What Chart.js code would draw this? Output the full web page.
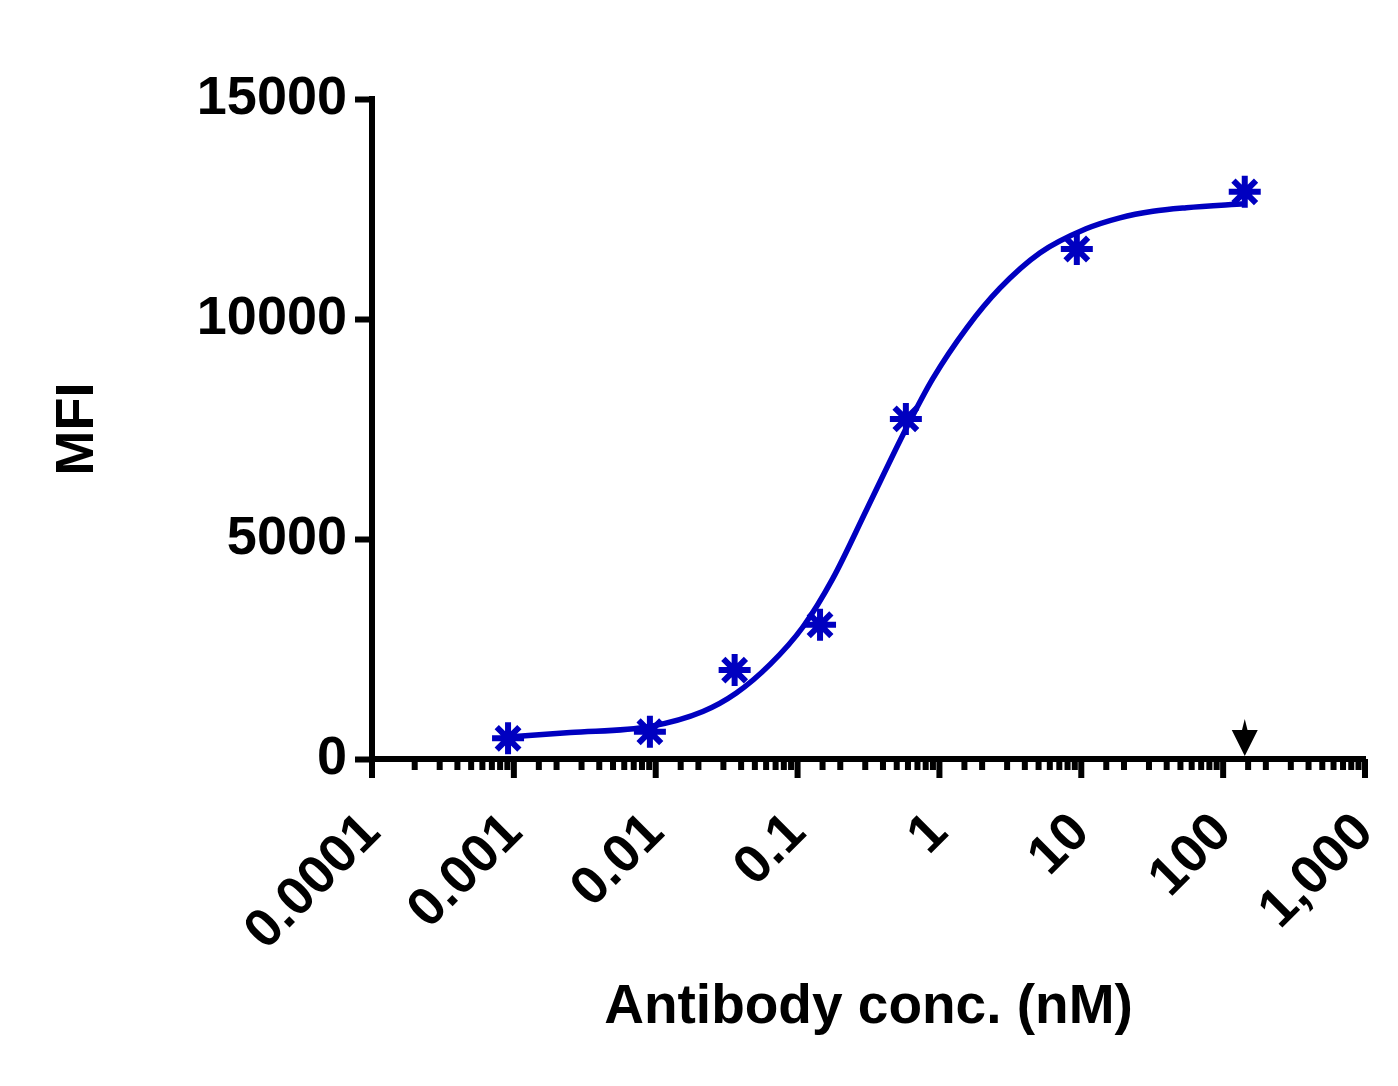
<!DOCTYPE html>
<html lang="en">
<head>
    <meta charset="UTF-8">
    <title>MFI vs Antibody conc.</title>
    <script src="https://cdn.jsdelivr.net/npm/chart.js"></script>
    <style>
        body {
            margin: 0;
            background: #ffffff;
        }

        .chart-box {
            width: 1398px;
            height: 1086px;
        }
    </style>
</head>
<body>
    <div class="chart-box">
        <canvas id="bindingChart"></canvas>
    </div>

    <script>
        // measured points (nM, MFI)
        const concValues = [0.00091, 0.0091, 0.036, 0.144, 0.58, 9.3, 142];
        const mfiValues = [470, 620, 2020, 3050, 7730, 11590, 12890];

        // fitted curve
        const curveConc = [0.00091, 0.0025, 0.0091, 0.0215, 0.037, 0.064, 0.109, 0.177, 0.31, 0.58, 0.90, 1.56, 2.67, 5.1, 10.8, 18.7, 32, 55, 142];
        const curveMfi = [500, 600, 740, 1080, 1500, 2150, 3000, 4100, 5700, 7500, 8650, 9800, 10700, 11500, 12050, 12300, 12450, 12530, 12620];

        // arrow marker on the x axis
        const arrowConc = [142];

        const decadeValues = [0.0001, 0.001, 0.01, 0.1, 1, 10, 100, 1000];
        const xTickLabels = ['0.0001', '0.001', '0.01', '0.1', '1', '10', '100', '1,000'];

        const blue = 'rgb(0, 0, 192)';
        const font = 'Liberation Sans, Arial, sans-serif';
        const axisWidth = 6;

        function decadeIndex(v) {
            return decadeValues.findIndex(d => Math.abs(d - v) / d < 1e-6);
        }

        // GraphPad style x ticks (long at decades, short in between) + arrow
        const axisExtras = {
            id: 'axisExtras',
            afterDraw(chart) {
                const { ctx, chartArea, scales } = chart;
                const x = scales.x;
                const w = axisWidth;
                ctx.save();
                ctx.fillStyle = '#000';

                // y axis runs a bit below the x axis
                ctx.fillRect(chartArea.left - w / 2, chartArea.bottom, w, 12);

                x.ticks.forEach(t => {
                    const px = x.getPixelForValue(t.value);
                    const len = decadeIndex(t.value) >= 0 ? 19 : 11;
                    ctx.fillRect(px - w / 2, chartArea.bottom, w, len);
                });

                arrowConc.forEach(v => {
                    const px = x.getPixelForValue(v);
                    const base = chartArea.bottom - 3;
                    ctx.beginPath();
                    ctx.moveTo(px - 13, base - 26);
                    ctx.lineTo(px + 13, base - 26);
                    ctx.lineTo(px, base);
                    ctx.closePath();
                    ctx.fill();
                    ctx.beginPath();
                    ctx.moveTo(px - 3, base - 25);
                    ctx.lineTo(px, base - 37);
                    ctx.lineTo(px + 3, base - 25);
                    ctx.closePath();
                    ctx.fill();
                });
                ctx.restore();
            }
        };

        const ctx = document.getElementById('bindingChart').getContext('2d');
        new Chart(ctx, {
            type: 'scatter',
            data: {
                datasets: [
                    {
                        label: 'MFI',
                        data: concValues.map((c, i) => ({ x: c, y: mfiValues[i] })),
                        pointStyle: 'star',
                        pointRadius: 16,
                        pointBorderWidth: 6,
                        borderColor: blue,
                        backgroundColor: blue,
                        showLine: false
                    },
                    {
                        label: 'Fit',
                        data: curveConc.map((c, i) => ({ x: c, y: curveMfi[i] })),
                        showLine: true,
                        borderColor: blue,
                        borderWidth: 5.5,
                        pointRadius: 0,
                        cubicInterpolationMode: 'monotone'
                    }
                ]
            },
            options: {
                responsive: true,
                maintainAspectRatio: false,
                animation: false,
                layout: {
                    padding: { top: 99, right: 33, left: 0, bottom: 0 }
                },
                scales: {
                    x: {
                        type: 'logarithmic',
                        min: 0.0001,
                        max: 1000,
                        afterFit(scale) {
                            scale.height = 327;
                            scale.paddingLeft = 0;
                            scale.paddingRight = 0;
                        },
                        grid: { display: false },
                        border: { display: true, color: '#000', width: axisWidth },
                        ticks: {
                            autoSkip: false,
                            maxRotation: 45,
                            minRotation: 45,
                            padding: 34,
                            color: '#000',
                            font: { family: font, size: 54, weight: 'bold' },
                            callback(value) {
                                const i = decadeIndex(value);
                                return i >= 0 ? xTickLabels[i] : '';
                            }
                        },
                        title: {
                            display: true,
                            text: 'Antibody conc. (nM)',
                            color: '#000',
                            font: { family: font, size: 55, weight: 'bold' },
                            padding: { top: 0, bottom: 45 }
                        }
                    },
                    y: {
                        min: 0,
                        max: 15000,
                        afterFit(scale) { scale.width = 372; },
                        grid: {
                            drawOnChartArea: false,
                            drawTicks: true,
                            tickLength: 17,
                            tickWidth: axisWidth,
                            tickColor: '#000'
                        },
                        border: { display: true, color: '#000', width: axisWidth },
                        ticks: {
                            stepSize: 5000,
                            padding: 8,
                            color: '#000',
                            font: { family: font, size: 54, weight: 'bold' },
                            callback(value) { return String(value); }
                        },
                        title: {
                            display: true,
                            text: 'MFI',
                            color: '#000',
                            font: { family: font, size: 54, weight: 'bold' },
                            padding: { top: 46, bottom: 0 }
                        }
                    }
                },
                plugins: {
                    legend: { display: false },
                    tooltip: { enabled: false }
                }
            },
            plugins: [axisExtras]
        });
    </script>
</body>
</html>
